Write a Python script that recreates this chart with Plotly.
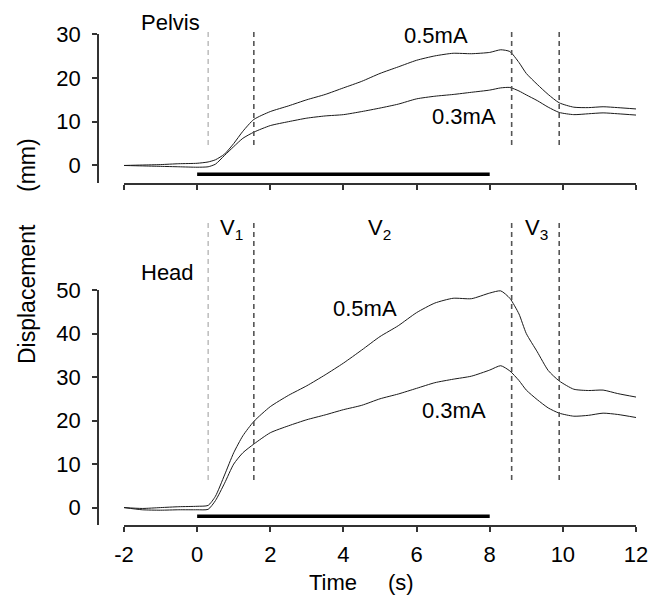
import plotly.graph_objects as go

# ---- data ----
time_s = [-2, -1.5, -1, -0.5, 0, 0.3, 0.5, 0.75, 1.0, 1.25, 1.55, 2.0, 2.5, 3.0, 3.5,
          4.0, 4.5, 5.0, 5.5, 6.0, 6.5, 7.0, 7.5, 8.0, 8.3, 8.55, 8.8, 9.0, 9.3, 9.6,
          9.9, 10.3, 10.7, 11.1, 11.5, 12]

pelvis_05 = [0, 0.1, 0.2, 0.4, 0.5, 0.8, 1.3, 2.6, 5.0, 7.8, 10.5, 12.3, 13.6, 15.0, 16.2,
             17.7, 19.2, 21.0, 22.5, 24.0, 25.0, 25.6, 25.5, 25.8, 26.4, 26.0, 23.5, 21.0, 18.5, 16.2,
             14.3, 13.3, 13.2, 13.4, 13.2, 12.9]
pelvis_03 = [0, -0.1, -0.2, -0.3, -0.4, -0.3, 0.3, 2.3, 4.3, 6.2, 7.6, 9.1, 10.0, 10.8, 11.3,
             11.6, 12.3, 13.1, 14.0, 15.2, 15.8, 16.2, 16.7, 17.2, 17.7, 17.8, 17.0, 16.1, 14.8, 13.3,
             12.1, 11.6, 11.8, 12.0, 11.8, 11.5]

head_05 = [0, -0.2, 0.0, 0.2, 0.3, 0.5, 2.6, 7.5, 12.6, 16.5, 19.8, 23.2, 25.8, 28.0, 30.5,
           33.2, 36.2, 39.3, 41.8, 44.8, 47.0, 48.1, 48.0, 49.3, 49.8, 48.1, 44.5, 40.0, 35.8, 31.5,
           29.1, 27.2, 26.9, 27.0, 26.2, 25.4]
head_03 = [0, -0.5, -0.6, -0.5, -0.5, -0.4, 1.6, 5.6, 10.0, 12.6, 14.6, 17.2, 18.8, 20.2, 21.3,
           22.5, 23.5, 25.0, 26.1, 27.4, 28.7, 29.5, 30.2, 31.6, 32.6, 31.4, 29.2, 27.0, 24.8, 22.9,
           21.7, 21.0, 21.2, 21.7, 21.4, 20.7]

stim_t = [0, 8]
stim_y = [-2, -2]

phase_bounds = [0.3, 1.55, 8.6, 9.9]
x_ticks = [-2, 0, 2, 4, 6, 8, 10, 12]
x_ticktext = ["-2", "0", "2", "4", "6", "8", "10", "12"]
top_yticks = [0, 10, 20, 30]
bot_yticks = [0, 10, 20, 30, 40, 50]

# ---- layout helpers ----
W, H = 649, 601
ML, MR, MT, MB = 98, 2, 34, 76
PW, PH = W - ML - MR, H - MT - MB
X_LEFT, X_RIGHT = 124, 636


def px(x):
    return (x - ML) / PW


def py(y):
    return (H - MB - y) / PH


FONT = "Liberation Sans, Arial, sans-serif"
FS = 22
LINE = dict(color="#1a1a1a", width=1)

fig = go.Figure()
for ser in (pelvis_05, pelvis_03):
    fig.add_trace(go.Scatter(x=time_s, y=ser, mode="lines", line=dict(LINE, shape="spline", smoothing=0.6),
                             xaxis="x", yaxis="y", showlegend=False, hoverinfo="skip"))
fig.add_trace(go.Scatter(x=stim_t, y=stim_y, mode="lines", line=dict(color="black", width=3.5),
                         xaxis="x", yaxis="y", showlegend=False, hoverinfo="skip"))
for ser in (head_05, head_03):
    fig.add_trace(go.Scatter(x=time_s, y=ser, mode="lines", line=dict(LINE, shape="spline", smoothing=0.6),
                             xaxis="x2", yaxis="y2", showlegend=False, hoverinfo="skip"))
fig.add_trace(go.Scatter(x=stim_t, y=stim_y, mode="lines", line=dict(color="black", width=3.5),
                         xaxis="x2", yaxis="y2", showlegend=False, hoverinfo="skip"))

axis_common = dict(showline=True, linecolor="#333", linewidth=1.5, ticks="outside", ticklen=5,
                   tickwidth=1.5, tickcolor="#333", showgrid=False, zeroline=False, automargin=False,
                   tickfont=dict(family=FONT, size=FS, color="black"))

xdom = [px(X_LEFT), px(X_RIGHT)]
top_dom = [py(183), 1.0]
bot_dom = [0.0, py(290)]

fig.update_layout(
    width=W, height=H, autosize=False, margin=dict(l=ML, r=MR, t=MT, b=MB),
    paper_bgcolor="white", plot_bgcolor="white",
    xaxis=dict(axis_common, domain=xdom, range=[-2, 12], tickvals=x_ticks, showticklabels=False,
               anchor="y"),
    yaxis=dict(axis_common, domain=top_dom, range=[-4, 30], tickvals=top_yticks, anchor="free",
               position=0, ticklabelstandoff=7),
    xaxis2=dict(axis_common, domain=xdom, range=[-2, 12], tickvals=x_ticks, ticktext=x_ticktext,
                anchor="y2", ticklabelstandoff=4),
    yaxis2=dict(axis_common, domain=bot_dom, range=[-4, 50], tickvals=bot_yticks, anchor="free",
                position=0, ticklabelstandoff=7),
)

# phase boundary lines
shapes = []
for i, t in enumerate(phase_bounds):
    style = dict(color="#9a9a9a", width=1, dash="5px,4px") if i == 0 else dict(color="#555", width=1.6, dash="5px,4px")
    shapes.append(dict(type="line", xref="x", yref="paper", x0=t, x1=t, y0=py(32), y1=py(145), line=style))
    shapes.append(dict(type="line", xref="x2", yref="paper", x0=t, x1=t, y0=py(223), y1=py(482), line=style))
fig.update_layout(shapes=shapes)

ann = [
    ("Pelvis", 170, 23),
    ("Head", 167, 272),
    ("0.5mA", 436, 35),
    ("0.3mA", 464, 116),
    ("0.5mA", 365, 308),
    ("0.3mA", 454, 410),
    ("V<sub>1</sub>", 231, 229),
    ("V<sub>2</sub>", 379, 229),
    ("V<sub>3</sub>", 536, 229),
    ("Time", 333, 582),
    ("(s)", 401, 582),
]
annotations = [dict(text=t, x=px(x), y=py(y), xref="paper", yref="paper", showarrow=False,
                    xanchor="center", yanchor="middle", font=dict(family=FONT, size=FS, color="black"))
               for t, x, y in ann]
for t, y in (("Displacement", 294), ("(mm)", 165)):
    annotations.append(dict(text=t, x=px(27), y=py(y), xref="paper", yref="paper", showarrow=False,
                            textangle=-90, xanchor="center", yanchor="middle",
                            font=dict(family=FONT, size=23, color="black")))
fig.update_layout(annotations=annotations)

post = (
    "document.documentElement.style.overflow='hidden';"
    "document.body.style.margin='0';"
    "document.body.style.overflow='hidden';"
    "var gd=document.getElementById('{plot_id}');"
    "Plotly.relayout(gd,{width:%d,height:%d});" % (W, H)
)
fig.write_html("out.html", config={"displayModeBar": False, "responsive": False},
               post_script=post)
